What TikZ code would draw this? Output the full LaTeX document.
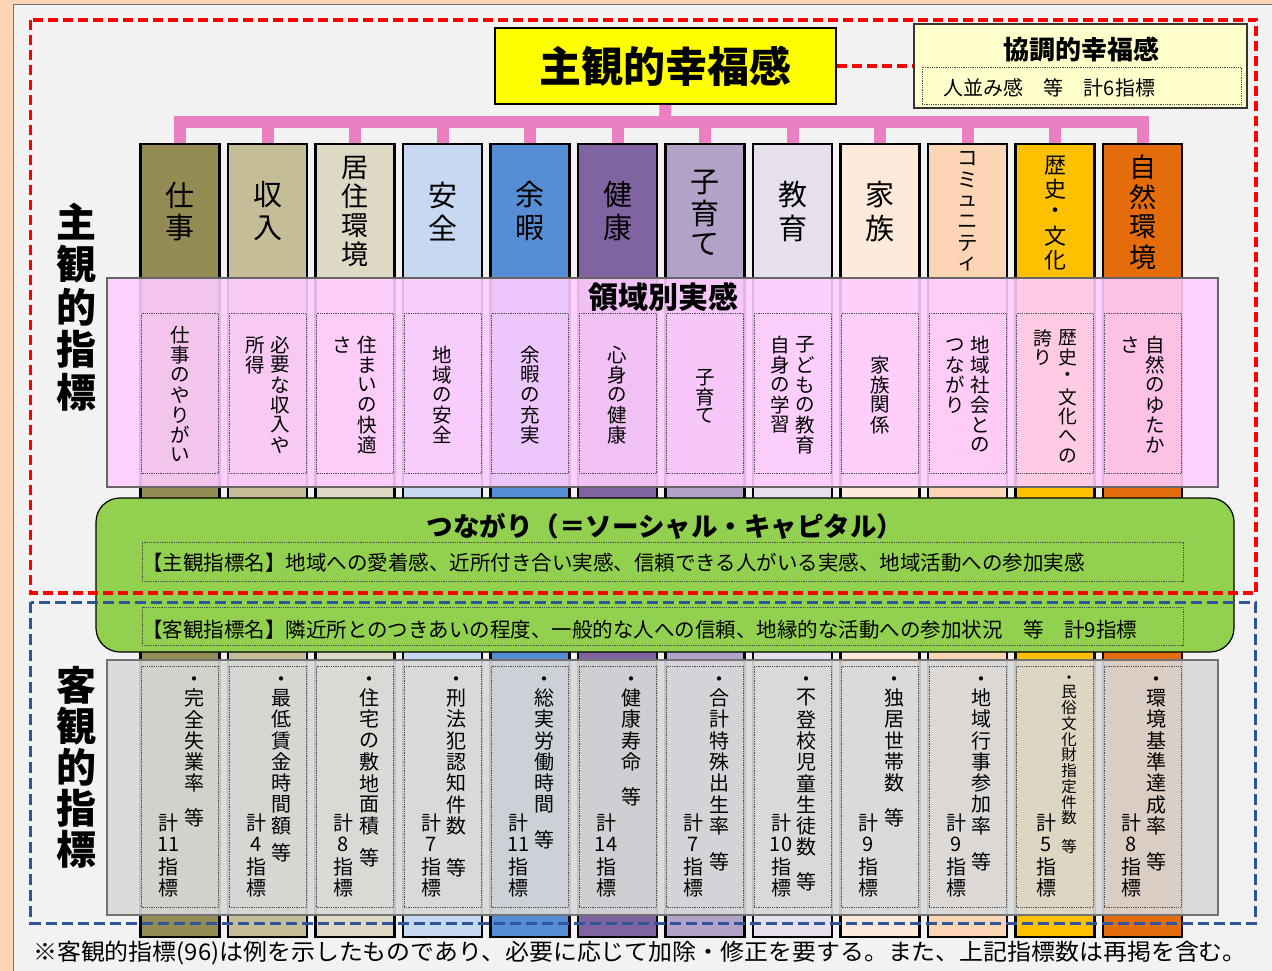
\documentclass[tikz,border=0pt]{standalone}
\usepackage{fontspec}
\usepackage{graphicx}
\setmainfont{Noto Sans CJK JP}
\usetikzlibrary{calc}
\definecolor{peach}{RGB}{252,213,180}
\definecolor{panelgray}{RGB}{242,242,242}
\definecolor{treepink}{RGB}{234,128,194}
\definecolor{yel}{RGB}{255,255,0}
\definecolor{lyel}{RGB}{255,255,204}
\definecolor{bandpink}{RGB}{255,204,255}
\definecolor{bandgreen}{RGB}{146,208,80}
\definecolor{bandgray}{RGB}{217,217,217}
\definecolor{bluedash}{RGB}{47,85,151}
\definecolor{c1}{HTML}{948A54}
\definecolor{c2}{HTML}{C4BD97}
\definecolor{c3}{HTML}{DDD9C4}
\definecolor{c4}{HTML}{C6D9F1}
\definecolor{c5}{HTML}{558ED5}
\definecolor{c6}{HTML}{8064A2}
\definecolor{c7}{HTML}{B3A2C7}
\definecolor{c8}{HTML}{E6E0EC}
\definecolor{c9}{HTML}{FDEADA}
\definecolor{c10}{HTML}{FCD5B5}
\definecolor{c11}{HTML}{FFC000}
\definecolor{c12}{HTML}{E46C0A}
% vertical text: #1 name prefix, #2 style, #3 x, #4 y of first char, #5 pitch, #6 list
\newcommand\vt[6]{\foreach \c [count=\k from 0] in {#6} {\node[#2] (#1-\k) at (#3,{#4+\k*#5}) {\c};}}
% objective column: #1 index, #2 right x, #3 left x, #4 list, #5 y of 等, #6 number
\newcommand\objcol[6]{%
  \node[ob] (od#1) at (#2,682) {・};
  \vt{o#1}{ob}{#2}{698}{21.3}{#4}
  \node[ob] (oe#1) at (#2,#5) {等};
  \vt{on#1}{ob}{#3}{823}{21.7}{計,#6,指,標}}
\begin{document}
\begin{tikzpicture}[x=1pt,y=-1pt,
  colbox/.style={draw=black, line width=2.2pt, inner sep=0pt, minimum width=79pt, minimum height=793pt},
  dotbox/.style={draw=black!70, densely dotted, line width=0.8pt, inner sep=0pt},
  tree/.style={draw=treepink, line width=12pt},
  reddash/.style={draw=red, line width=3.2pt, dash pattern=on 10pt off 5pt},
  bluedashed/.style={draw=bluedash, line width=3pt, dash pattern=on 11pt off 5pt},
  hd/.style={inner sep=0pt, font=\fontsize{29}{30}\selectfont},
  hdm/.style={inner sep=0pt, font=\fontsize{27}{28}\selectfont},
  hds/.style={inner sep=0pt, font=\fontsize{20.5}{21}\selectfont},
  hdh/.style={inner sep=0pt, font=\fontsize{22}{23}\selectfont},
  sj/.style={inner sep=0pt, font=\fontsize{19.5}{20}\selectfont},
  sjs/.style={inner sep=0pt, font=\fontsize{18.8}{19}\selectfont},
  ob/.style={inner sep=0pt, font=\fontsize{20}{21}\selectfont},
  obs/.style={inner sep=0pt, font=\fontsize{15.5}{16}\selectfont},
  big/.style={inner sep=0pt, font=\bfseries\fontsize{40}{42}\selectfont},
  ]
\useasboundingbox (0,0) rectangle (1272,971);
\fill[peach] (0,0) rectangle (1272,971);
\draw[draw=black!55, line width=1.5pt, fill=panelgray] (13.5,4.5) rectangle (1285,985);

% columns
\foreach \i in {1,...,12}{
  \pgfmathsetmacro\cx{180+87.5*(\i-1)}
  \node[colbox, fill=c\i] (col\i) at (\cx,540.5) {};
}

% top boxes
\node[draw=black, line width=2pt, fill=yel, inner sep=0pt, minimum width=341pt, minimum height=76pt,
      font=\bfseries\fontsize{42}{44}\selectfont] (ybox) at (665.5,66) {主観的幸福感};
\node[draw=black!80, line width=1.5pt, fill=lyel, inner sep=0pt, minimum width=333pt, minimum height=84pt] (kbox) at (1080.5,66) {};
\node[inner sep=0pt, font=\bfseries\fontsize{26}{28}\selectfont] (ktitle) at (1081,50) {協調的幸福感};
\node[dotbox, minimum width=319pt, minimum height=37pt] (kdot) at (1081.5,85.5) {};
\node[inner sep=0pt, font=\fontsize{20}{22}\selectfont] (ktext) at (1049.5,88) {人並み感　等　計6指標};
\draw[reddash] (ybox.east) -- (kbox.west);

% pink tree
\coordinate (bar) at (665,122);
\draw[tree] (ybox.south) -- (bar);
\draw[tree] ($(col1.north |- bar)+(-6,0)$) -- ($(col12.north |- bar)+(6,0)$);
\foreach \i in {1,...,12} \draw[tree] (col\i.north |- bar) -- (col\i.north);

% pink band
\node[draw=black!60, line width=1.2pt, fill=bandpink, fill opacity=0.89, inner sep=0pt,
      minimum width=1111pt, minimum height=209pt] (pband) at (662.5,382.5) {};
\node[inner sep=0pt, font=\bfseries\fontsize{30}{32}\selectfont] (ptitle) at (663,297) {領域別実感};

% green band
\node[draw=black, line width=1.2pt, fill=bandgreen, rounded corners=24pt, inner sep=0pt,
      minimum width=1138pt, minimum height=154pt] (gband) at (665,575) {};
\node[inner sep=0pt, font=\bfseries\fontsize{26.5}{28}\selectfont] (gtitle) at (665,526) {つながり（＝ソーシャル・キャピタル）};
\node[dotbox, minimum width=1041pt, minimum height=39pt] (gdot1) at (662.5,561.5) {};
\node[dotbox, minimum width=1041pt, minimum height=38pt] (gdot2) at (662.5,626) {};
\node[inner sep=0pt, anchor=west, font=\fontsize{20.5}{22}\selectfont] (gtext1) at (142,563)
  {【主観指標名】地域への愛着感、近所付き合い実感、信頼できる人がいる実感、地域活動への参加実感};
\node[inner sep=0pt, anchor=west, font=\fontsize{20.5}{22}\selectfont] (gtext2) at (142,630)
  {【客観指標名】隣近所とのつきあいの程度、一般的な人への信頼、地縁的な活動への参加状況　等　計9指標};

% gray band
\node[draw=black!55, line width=1.2pt, fill=bandgray, fill opacity=0.9, inner sep=0pt,
      minimum width=1111pt, minimum height=255pt] (gyband) at (662.5,787.5) {};

% dotted inner boxes
\foreach \i in {1,...,12}{
  \pgfmathsetmacro\cx{180+87.5*(\i-1)}
  \node[dotbox, minimum width=77pt, minimum height=160pt] (sb\i) at (\cx,393.5) {};
  \node[dotbox, minimum width=77pt, minimum height=241pt] (ob\i) at (\cx,786.5) {};
}

% column headers
\vt{h1}{hd}{180}{195}{33}{仕,事}
\vt{h2}{hd}{267.5}{195}{33}{収,入}
\vt{h3}{hdm}{355}{167.5}{29}{居,住,環,境}
\vt{h4}{hd}{442.5}{195}{33}{安,全}
\vt{h5}{hd}{530}{195}{33}{余,暇}
\vt{h6}{hd}{617.5}{195}{33}{健,康}
\vt{h7}{hd}{705}{182}{31}{子,育,て}
\vt{h8}{hd}{792.5}{195}{33}{教,育}
\vt{h9}{hd}{880}{195}{33}{家,族}
\vt{h10}{hds}{967.5}{159}{21}{コ,ミ,ュ,ニ,テ,ィ}
\vt{h11}{hdh}{1055}{166}{23.5}{歴,史,・,文,化}
\vt{h12}{hdm}{1142.5}{167}{30}{自,然,環,境}

% subjective texts
\vt{s1}{sj}{180}{335}{20}{仕,事,の,や,り,が,い}
\vt{s2a}{sj}{280}{345}{20}{必,要,な,収,入,や}
\vt{s2b}{sj}{255}{345}{20}{所,得}
\vt{s3a}{sj}{367.5}{345}{20}{住,ま,い,の,快,適}
\vt{s3b}{sj}{342.5}{345}{20}{さ}
\vt{s4}{sj}{442.5}{355}{20}{地,域,の,安,全}
\vt{s5}{sj}{530}{355}{20}{余,暇,の,充,実}
\vt{s6}{sj}{617.5}{355}{20}{心,身,の,健,康}
\vt{s7}{sj}{705}{378}{19}{子,育,て}
\vt{s8a}{sj}{805}{345}{20}{子,ど,も,の,教,育}
\vt{s8b}{sj}{780}{345}{20}{自,身,の,学,習}
\vt{s9}{sj}{880}{365}{20}{家,族,関,係}
\vt{s10a}{sj}{980}{345}{20}{地,域,社,会,と,の}
\vt{s10b}{sj}{955}{345}{20}{つ,な,が,り}
\vt{s11a}{sjs}{1067.5}{338}{19.7}{歴,史,・,文,化,へ,の}
\vt{s11b}{sjs}{1042.5}{338}{19.7}{誇,り}
\vt{s12a}{sj}{1155}{345}{20}{自,然,の,ゆ,た,か}
\vt{s12b}{sj}{1130}{345}{20}{さ}

% objective texts
\objcol{1}{194}{168.5}{完,全,失,業,率}{818}{11}
\objcol{2}{281.5}{256}{最,低,賃,金,時,間,額}{853}{4}
\objcol{3}{369}{343.5}{住,宅,の,敷,地,面,積}{858}{8}
\objcol{4}{456.5}{431}{刑,法,犯,認,知,件,数}{868}{7}
\objcol{5}{544}{518.5}{総,実,労,働,時,間}{840}{11}
\objcol{6}{631.5}{606}{健,康,寿,命}{797}{14}
\objcol{7}{719}{693.5}{合,計,特,殊,出,生,率}{862}{7}
\objcol{8}{806.5}{781}{不,登,校,児,童,生,徒,数}{882}{10}
\objcol{9}{894}{868.5}{独,居,世,帯,数}{818}{9}
\objcol{10}{981.5}{956}{地,域,行,事,参,加,率}{862}{9}
\node[obs] (od11) at (1069,680) {・};
\vt{o11}{obs}{1069}{692}{15.75}{民,俗,文,化,財,指,定,件,数}
\node[obs] (oe11) at (1069,847) {等};
\vt{on11}{ob}{1046}{823}{21.7}{計,5,指,標}
\objcol{12}{1156.5}{1131}{環,境,基,準,達,成,率}{862}{8}

% side labels
\vt{L1}{big}{76}{222}{42.5}{主,観,的,指,標}
\vt{L2}{big}{76}{685}{41}{客,観,的,指,標}

% dashed frames
\draw[reddash] (30.5,20) rectangle (1256,593);
\draw[bluedashed] (30.5,602) rectangle (1255,923);

% footnote
\node[inner sep=0pt, anchor=west, font=\fontsize{23}{25}\selectfont] (note) at (33,953)
  {\scalebox{1.04}[1]{※客観的指標(96)は例を示したものであり、必要に応じて加除・修正を要する。また、上記指標数は再掲を含む。}};
\end{tikzpicture}
\end{document}
